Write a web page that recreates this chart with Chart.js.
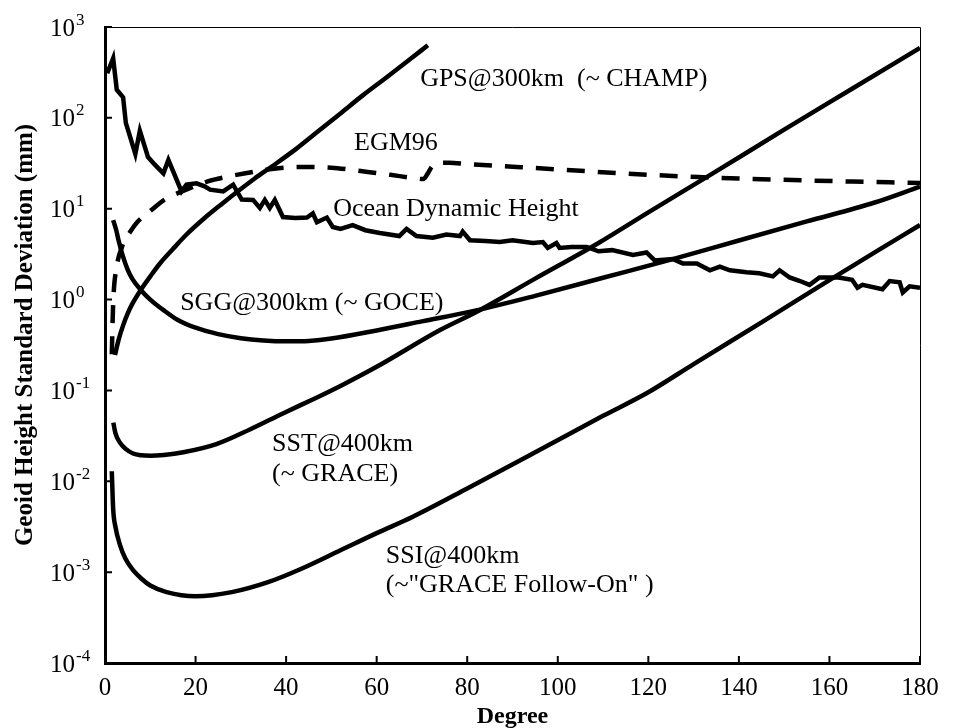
<!DOCTYPE html>
<html>
<head>
<meta charset="utf-8">
<script src="https://cdn.jsdelivr.net/npm/chart.js@4.4.1/dist/chart.umd.min.js"></script>
<style>
  html, body { margin: 0; padding: 0; background: #fff; }
  #wrap { width: 957px; height: 728px; }
</style>
</head>
<body>
<div id="wrap"><canvas id="geoidChart" width="957" height="728"></canvas></div>
<script>
// Geoid height error per degree (mm, log axis)
const xTicks = [0, 20, 40, 60, 80, 100, 120, 140, 160, 180];
const yTickExps = [-4, -3, -2, -1, 0, 1, 2, 3];

const gpsDeg = [2.2, 3, 4, 5, 6, 8, 10, 12, 15, 18, 22, 26, 29, 33, 37, 42, 47, 52, 57, 62, 67, 71.3];
const gpsVal = [0.245, 0.36, 0.52, 0.70, 0.89, 1.30, 1.8, 2.45, 3.6, 5.2, 7.9, 11.5, 15.1, 21.4, 29.5, 44.7, 70.8, 112, 178, 275, 427, 630];

const egmDeg = [1.5, 1.8, 2.6, 3.75, 5.5, 7.1, 10.4, 13.2, 17, 22.7, 27, 32, 36, 40.8, 45, 50, 54, 58, 63, 68, 70.3, 71.3, 72.2, 73.5, 76, 80, 90, 102, 113, 122, 131, 140, 150, 165, 180];
const egmVal = [0.25, 0.9, 2.3, 3.8, 5.5, 7.1, 9.8, 12.6, 15.5, 20, 22.5, 25, 27, 28.5, 28.8, 28.3, 27, 25.4, 23.6, 21.8, 21.2, 24.5, 29, 31.8, 32, 31, 29, 26.7, 24.7, 23.4, 22.3, 21.5, 20.8, 19.9, 19.2];

const odhDeg = [0.5, 1.8, 2.6, 4.0, 4.6, 6.7, 7.7, 9.5, 11, 12.9, 14, 16.9, 18, 20.2, 22, 23.2, 26.1, 28.3, 30.2, 32.7, 34.2, 35.3, 36.4, 37.5, 39.3, 42, 44.6, 45.9, 46.8, 49, 50.3, 52, 54.7, 57.5, 60.7, 65, 66.6, 68.8, 72.4, 75.4, 78.4, 79, 80.6, 84, 87.2, 90, 94.5, 96.7, 97.8, 99.7, 100.4, 103, 106.4, 109, 112, 116.6, 119.6, 121.4, 125.4, 127.6, 130.7, 133.6, 135.8, 138, 141.7, 144.5, 147.5, 149, 151.2, 153.5, 155.6, 157.8, 162, 165, 166.2, 167.3, 171.7, 173.3, 175.5, 176.2, 177.7, 180];
const odhVal = [310, 453, 204, 168, 88, 40, 72, 37, 30.5, 24.5, 34.5, 15.5, 18.4, 19, 17.6, 16.2, 15.5, 18.4, 12.6, 12.5, 10.2, 12.5, 10.2, 12.5, 8.1, 7.9, 8.0, 8.9, 7.1, 8.0, 6.3, 6.0, 6.6, 5.8, 5.4, 5.0, 6.0, 5.0, 4.8, 5.2, 5.0, 5.6, 4.5, 4.4, 4.3, 4.5, 4.2, 4.3, 3.7, 4.2, 3.7, 3.8, 3.8, 3.4, 3.5, 3.1, 3.3, 2.7, 2.8, 2.5, 2.5, 2.1, 2.3, 2.1, 2.0, 1.95, 1.8, 2.1, 1.75, 1.6, 1.45, 1.75, 1.75, 1.65, 1.35, 1.45, 1.3, 1.6, 1.55, 1.2, 1.4, 1.35];

const sggDeg = [1.8, 2.5, 3, 4, 5, 6, 8, 10, 13, 16, 20, 25, 30, 35, 40, 45, 50, 60, 70, 82, 95, 110, 125, 140, 155, 170, 180];
const sggVal = [7.5, 5.75, 4.47, 2.95, 2.14, 1.70, 1.26, 1.0, 0.76, 0.60, 0.49, 0.417, 0.376, 0.355, 0.347, 0.351, 0.372, 0.457, 0.575, 0.76, 1.10, 1.74, 2.75, 4.47, 7.24, 11.7, 17.5];

const sstDeg = [1.84, 2.3, 3.3, 4.5, 6.2, 8, 10, 13, 17.3, 24.6, 32, 39.4, 46.7, 52, 60, 74, 82, 95, 109, 120, 133.6, 150, 165, 180];
const sstVal = [0.0442, 0.0339, 0.0266, 0.0229, 0.0202, 0.0193, 0.0191, 0.0195, 0.0209, 0.0257, 0.0372, 0.0562, 0.0832, 0.112, 0.182, 0.462, 0.730, 1.70, 4.20, 9.12, 23.4, 74.1, 209, 589];

const ssiDeg = [1.5, 1.8, 2.3, 3.3, 4.5, 6.2, 8, 10, 13.6, 20, 28, 36, 43, 52, 60, 68, 80, 98, 110, 120, 130, 145, 160, 170, 180];
const ssiVal = [0.0129, 0.00501, 0.00316, 0.00200, 0.00141, 0.00105, 0.000851, 0.000713, 0.000603, 0.000543, 0.000603, 0.000776, 0.00107, 0.00174, 0.00269, 0.00407, 0.00832, 0.0251, 0.0525, 0.0955, 0.195, 0.562, 1.64, 3.31, 6.61];

// curve labels, anchored in data coordinates (left edge, baseline)
const notes = [
  { text: 'GPS@300km  (~ CHAMP)', deg: 69.6, val: 224 },
  { text: 'EGM96', deg: 55.0, val: 44.3 },
  { text: 'Ocean Dynamic Height', deg: 50.4, val: 8.32 },
  { text: 'SGG@300km (~ GOCE)', deg: 16.6, val: 0.767 },
  { text: 'SST@400km', deg: 36.9, val: 0.0213 },
  { text: '(~ GRACE)', deg: 36.9, val: 0.01007 },
  { text: 'SSI@400km', deg: 62.0, val: 0.00126 },
  { text: '(~"GRACE Follow-On" )', deg: 62.0, val: 0.000605 }
];

const serif = '"Liberation Serif", "Times New Roman", serif';
const pts = (xs, ys) => xs.map((d, i) => ({ x: d, y: ys[i] }));

function curve(data, smooth, dash) {
  return {
    data: data,
    borderColor: '#000',
    borderWidth: 4.5,
    borderDash: dash || [],
    pointRadius: 0,
    fill: false,
    tension: 0,
    cubicInterpolationMode: smooth ? 'monotone' : 'default'
  };
}

const frame = {
  id: 'frame',
  afterDraw(chart) {
    const { ctx, chartArea: a, scales: { x, y } } = chart;
    ctx.save();
    ctx.strokeStyle = '#000';
    ctx.fillStyle = '#000';

    // thin top and right edges
    ctx.lineWidth = 1;
    ctx.beginPath();
    ctx.moveTo(a.left, a.top + 0.5);
    ctx.lineTo(a.right + 0.5, a.top + 0.5);
    ctx.lineTo(a.right + 0.5, a.bottom);
    ctx.stroke();

    // inward tick marks
    ctx.lineWidth = 2;
    ctx.beginPath();
    xTicks.forEach(v => {
      const px = x.getPixelForValue(v);
      ctx.moveTo(px, a.bottom);
      ctx.lineTo(px, a.bottom - 7);
    });
    yTickExps.forEach(e => {
      const py = y.getPixelForValue(Math.pow(10, e));
      ctx.moveTo(a.left, py);
      ctx.lineTo(a.left + 7, py);
    });
    ctx.stroke();

    // x tick labels
    ctx.font = '25px ' + serif;
    ctx.textAlign = 'center';
    ctx.textBaseline = 'alphabetic';
    xTicks.forEach(v => ctx.fillText(String(v), x.getPixelForValue(v), a.bottom + 32));

    // y tick labels as 10 with a raised exponent
    ctx.textAlign = 'left';
    yTickExps.forEach(e => {
      const py = y.getPixelForValue(Math.pow(10, e));
      ctx.font = '25px ' + serif;
      ctx.fillText('10', 50, py + 8.5);
      const w = ctx.measureText('10').width;
      ctx.font = '17px ' + serif;
      ctx.fillText(String(e), 50 + w + 1, py - 2.5);
    });

    // axis titles
    ctx.font = 'bold 24px ' + serif;
    ctx.textAlign = 'center';
    ctx.fillText('Degree', (a.left + a.right) / 2, 723);
    ctx.save();
    ctx.translate(32, 335);
    ctx.rotate(-Math.PI / 2);
    ctx.font = 'bold 25px ' + serif;
    ctx.fillText('Geoid Height Standard Deviation (mm)', 0, 0);
    ctx.restore();

    // curve labels
    ctx.font = '26px ' + serif;
    ctx.textAlign = 'left';
    notes.forEach(n => ctx.fillText(n.text, x.getPixelForValue(n.deg), y.getPixelForValue(n.val)));
    ctx.restore();
  }
};

function draw() {
  new Chart(document.getElementById('geoidChart'), {
    type: 'line',
    data: {
      datasets: [
        curve(pts(odhDeg, odhVal), false),
        curve(pts(egmDeg, egmVal), true, [18, 13]),
        curve(pts(gpsDeg, gpsVal), true),
        curve(pts(sggDeg, sggVal), true),
        curve(pts(sstDeg, sstVal), true),
        curve(pts(ssiDeg, ssiVal), true)
      ]
    },
    options: {
      responsive: false,
      animation: false,
      devicePixelRatio: 1,
      layout: { padding: { top: 27, right: 37, left: 0, bottom: 0 } },
      plugins: { legend: { display: false }, tooltip: { enabled: false } },
      scales: {
        x: {
          type: 'linear', min: 0, max: 180,
          ticks: { display: false },
          grid: { display: false, drawTicks: false },
          border: { display: true, color: '#000', width: 3 },
          afterFit: s => { s.height = 65; }
        },
        y: {
          type: 'logarithmic', min: 1e-4, max: 1e3,
          ticks: { display: false },
          grid: { display: false, drawTicks: false },
          border: { display: true, color: '#000', width: 3 },
          afterFit: s => { s.width = 105; }
        }
      }
    },
    plugins: [frame]
  });
}

if (document.fonts && document.fonts.load) {
  Promise.all([
    document.fonts.load('25px "Liberation Serif"'),
    document.fonts.load('bold 25px "Liberation Serif"')
  ]).then(draw, draw);
} else {
  draw();
}
</script>
</body>
</html>
